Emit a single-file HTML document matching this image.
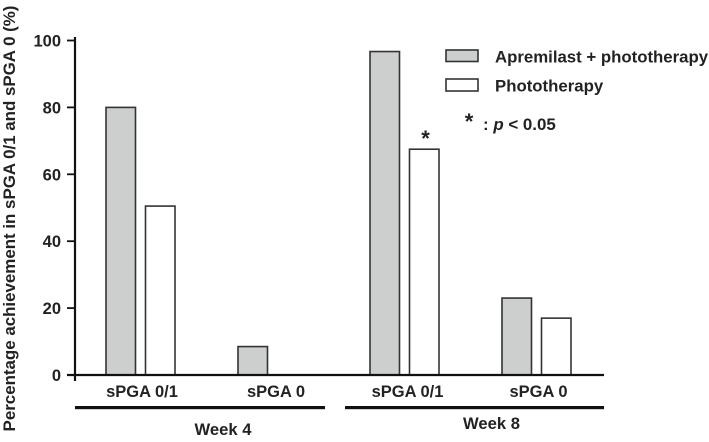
<!DOCTYPE html>
<html>
<head>
<meta charset="utf-8">
<style>
html,body{margin:0;padding:0;background:#fff}
svg{display:block}
text{font-family:"Liberation Sans",sans-serif;font-weight:bold;fill:#222}
</style>
</head>
<body>
<svg id="chart" width="709" height="442" viewBox="0 0 709 442" xmlns="http://www.w3.org/2000/svg"></svg>
<script>
const categories = ['sPGA 0/1', 'sPGA 0', 'sPGA 0/1', 'sPGA 0'];
const apremilastValues = [80, 8.5, 96.7, 23];
const phototherapyValues = [50.5, 0, 67.5, 17];
const yTicks = [0, 20, 40, 60, 80, 100];
const significant = [false, false, true, false];

const svg = document.getElementById('chart');
const NS = 'http://www.w3.org/2000/svg';
function yScale(v) { return 375 - v * 3.345; }
function xScale(i) { return 140.5 + i * 132; }
function make(tag, attrs, parent) {
  const el = document.createElementNS(NS, tag);
  for (const k in attrs) el.setAttribute(k, attrs[k]);
  (parent || svg).appendChild(el);
  return el;
}
function label(str, x, y, size, anchor, name) {
  const t = make('text', {x: x, y: y, 'font-size': size, 'text-anchor': anchor});
  
  
  t.textContent = str;
  return t;
}
function bar(i, v, offset, fill, name) {
  const top = yScale(v);
  const r = make('rect', {x: xScale(i) + offset, y: top, width: 29.5, height: yScale(0) - top, fill: fill, stroke: '#333', 'stroke-width': 1.6});
  
  
}

categories.forEach(function (c, i) {
  bar(i, apremilastValues[i], -34.5, '#cdcfce', 'bar-apremilast-' + i);
  if (phototherapyValues[i] > 0) bar(i, phototherapyValues[i], 5, '#fff', 'bar-phototherapy-' + i);
  const nudge = i === 0 ? 1.5 : i === 1 ? 3.5 : i === 2 ? 3 : 2;
  label(c, xScale(i) + nudge, 397, 16.5, 'middle', 'x-tick-label-' + i);
  if (significant[i]) {
    label('*', xScale(i) + 21, yScale(phototherapyValues[i]) - 3, 22, 'middle', 'significance-star');
  }
});

const yAxis = make('line', {x1: 75, x2: 75, y1: 37, y2: 381, stroke: '#111', 'stroke-width': 2.2});


const xAxis = make('line', {x1: 67, x2: 604, y1: 375, y2: 375, stroke: '#111', 'stroke-width': 2.2});



yTicks.forEach(function (v) {
  const y = yScale(v);
  const tick = make('line', {x1: 67, x2: 75, y1: y, y2: y, stroke: '#111', 'stroke-width': 1.8});
  
  
  label(String(v), 61, y + 6, 16.5, 'end', 'y-tick-label-' + v);
});

const week4Line = make('rect', {x: 75, y: 406, width: 250, height: 3.2, fill: '#111'});


const week8Line = make('rect', {x: 345, y: 406, width: 259, height: 3.2, fill: '#111'});


label('Week 4', 223, 435, 16.6, 'middle', 'week-4-label');
label('Week 8', 491.5, 429, 16.6, 'middle', 'week-8-label');

const yTitle = label('Percentage achievement in sPGA 0/1 and sPGA 0 (%)', 0, 0, 16.9, 'middle', 'y-axis-title');
yTitle.setAttribute('transform', 'translate(15 218.5) rotate(-90)');

const swatchA = make('rect', {x: 446, y: 50, width: 32, height: 11.5, fill: '#cdcfce', stroke: '#333', 'stroke-width': 1.6});


const swatchB = make('rect', {x: 446, y: 79, width: 32, height: 12, fill: '#fff', stroke: '#333', 'stroke-width': 1.6});


label('Apremilast + phototherapy', 495, 62.5, 16.8, 'start', 'legend-label-apremilast');
label('Phototherapy', 495, 91.5, 16.8, 'start', 'legend-label-phototherapy');
label('*', 469, 129, 22, 'middle', 'legend-star');
const note = label(': ', 483, 130, 16.9, 'start', 'significance-note');
const italicP = make('tspan', {'font-style': 'italic'}, note);
italicP.textContent = 'p';
const rest = make('tspan', {}, note);
rest.textContent = ' < 0.05';
</script>
</body>
</html>
